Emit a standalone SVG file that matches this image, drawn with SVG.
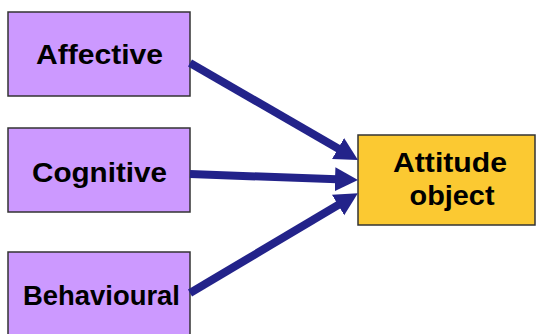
<svg xmlns="http://www.w3.org/2000/svg" width="539" height="334" viewBox="0 0 539 334">
<style>
.src rect{fill:#CC99FF;stroke:#333333;stroke-width:1.5}
.tgt rect{fill:#FBC932;stroke:#333333;stroke-width:1.5}
text{font-family:"Liberation Sans",Arial,sans-serif;font-weight:bold;font-size:28px;fill:#000;text-anchor:middle}
.conn line{stroke:#23238A;stroke-width:8;marker-end:url(#ah)}
</style>
<defs>
<marker id="ah" markerUnits="userSpaceOnUse" markerWidth="24" markerHeight="26" viewBox="0 0 24 26" refX="2" refY="13" orient="auto">
<path d="M0,1 L23,13 L0,25 z" fill="#23238A"/>
</marker>
</defs>
<rect width="539" height="334" fill="#FFFFFF"/>
<g id="affective" class="src"><rect x="8" y="12" width="182" height="84"/><text x="99.5" y="64" textLength="127" lengthAdjust="spacingAndGlyphs">Affective</text></g>
<g id="cognitive" class="src"><rect x="8" y="128" width="182" height="84"/><text x="99.5" y="182" textLength="135" lengthAdjust="spacingAndGlyphs">Cognitive</text></g>
<g id="behavioural" class="src"><rect x="8" y="252" width="182" height="100"/><text x="101.5" y="305" textLength="157" lengthAdjust="spacingAndGlyphs">Behavioural</text></g>
<g id="attitude" class="tgt"><rect x="358" y="135" width="177" height="90"/><text x="450" y="172" textLength="114" lengthAdjust="spacingAndGlyphs">Attitude</text><text x="452" y="205" textLength="85" lengthAdjust="spacingAndGlyphs">object</text></g>
<g id="connectors" class="conn">
<line x1="190" y1="63" x2="339.8" y2="149.5"/>
<line x1="190" y1="174" x2="337" y2="179.3"/>
<line x1="190" y1="293" x2="339.8" y2="204"/>
</g>
</svg>
